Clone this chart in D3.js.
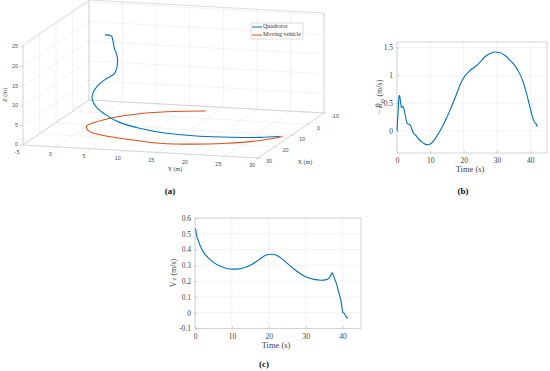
<!DOCTYPE html>
<html lang="en">
<head>
  <meta charset="utf-8">
  <title>Quadrotor landing</title>
  <script src="https://d3js.org/d3.v7.min.js"></script>
  <style>
    body { margin: 0; background: #fff; }
  </style>
</head>
<body>
<div id="fig"></div>
<script>
  // ---- data ----
  // (a) 3D trajectories, metres
  var quadX = [0.2, 0.1, 0.3, 1.0, 1.6, 2.0, 3.4, 4.3, 5.6, 7.5, 9.7, 11.5, 13.5, 16.0, 18.3, 19.6, 20.3, 19.3, 17.0, 14.6, 12.0];
  var quadY = [-0.1, 0.8, 1.1, 1.5, 1.9, 2.2, 2.4, 2.3, 1.4, 0.6, 0.4, 0.8, 1.9, 4.0, 6.5, 9.8, 14.0, 18.7, 23.1, 26.5, 28.8];
  var quadZ = [20, 19.8, 18.6, 16.8, 16, 14.6, 12.5, 11.5, 10.5, 9.2, 7.8, 6.6, 5.5, 4.4, 3.5, 2.7, 2.0, 1.4, 0.9, 0.5, 0.2];
  var vehX = [-6.3, -4.3, -1.0, 3.5, 8.3, 11.9, 15.8, 18.4, 20.5, 22.3, 21.6, 19.3, 16.6, 13.3, 11.2];
  var vehY = [13.3, 8.8, 4.7, 1.8, 0.3, 0.0, 1.4, 4.0, 8.1, 13.5, 18.2, 22.7, 25.9, 28.1, 29.0];
  var vehZ = [0, 0, 0, 0, 0, 0, 0, 0, 0, 0, 0, 0, 0, 0, 0];
  var xTicks3 = [-10, 0, 10, 20, 30];
  var yTicks3 = [-5, 0, 5, 10, 15, 20, 25, 30];
  var zTicks3 = [0, 5, 10, 15, 20, 25];
  var legendNames = ["Quadrotor", "Moving vehicle"];

  // (b) -dR_xy/dt vs time
  var bTime = [0, 0.3, 0.6, 0.8, 1.0, 1.3, 1.6, 1.9, 2.2, 2.6, 3.0, 3.4, 3.9, 4.4, 5.0, 5.6, 6.4, 7.4, 8.4, 9.4, 10.4, 11.8, 13.3, 14.8, 16.3, 17.8, 19.0, 20.3, 21.8, 23.3, 24.8, 26.3, 27.8, 29.3, 30.8, 32.3, 33.8, 35.3, 36.8, 38.0, 39.0, 40.0, 40.8, 41.4, 41.8, 42.1];
  var bVal = [0, 0.31, 0.61, 0.64, 0.55, 0.42, 0.44, 0.42, 0.37, 0.24, 0.14, 0.12, 0.11, 0.04, -0.05, -0.08, -0.14, -0.2, -0.24, -0.25, -0.22, -0.11, 0.04, 0.22, 0.43, 0.65, 0.84, 0.98, 1.08, 1.15, 1.23, 1.33, 1.39, 1.42, 1.41, 1.36, 1.28, 1.18, 1.03, 0.85, 0.64, 0.40, 0.22, 0.14, 0.12, 0.07];
  var bXTicks = [0, 10, 20, 30, 40];
  var bYTicks = [0, 0.5, 1, 1.5];

  // (c) Vz vs time
  var cTime = [0.1, 0.2, 0.44, 0.9, 1.5, 2.2, 3.1, 4.2, 5.3, 6.6, 8.4, 10.2, 11.9, 13.7, 15.5, 17.3, 19.0, 20.8, 22.1, 23.5, 25.2, 27.0, 28.8, 30.5, 32.3, 34.1, 35.4, 36.3, 36.9, 37.2, 37.6, 38.3, 38.9, 39.6, 40.1, 40.5, 40.9, 41.4];
  var cVal = [0.535, 0.525, 0.49, 0.457, 0.419, 0.387, 0.36, 0.335, 0.314, 0.297, 0.282, 0.276, 0.278, 0.288, 0.307, 0.335, 0.362, 0.37, 0.364, 0.343, 0.309, 0.274, 0.244, 0.223, 0.211, 0.206, 0.208, 0.219, 0.24, 0.255, 0.23, 0.187, 0.135, 0.072, 0.002, -0.006, -0.023, -0.038];
  var cXTicks = [0, 10, 20, 30, 40];
  var cYTicks = [-0.1, 0, 0.1, 0.2, 0.3, 0.4, 0.5, 0.6];

  var blue = "#0072BD", orange = "#D95319";
  var gridCol = "#ebebeb", boxCol = "#c4c4c4";
  var serif = "'Liberation Serif', 'DejaVu Serif', serif";
  var sans = "'Liberation Sans', Arial, sans-serif";

  var svg = d3.select("#fig").append("svg")
    .attr("width", 550)
    .attr("height", 371)
    .attr("font-family", serif)
    .style("font-family", serif);

  // ================= (a) 3D view =================
  var xs = d3.scaleLinear().domain([-10, 30]).range([0, 1]);
  var ys = d3.scaleLinear().domain([-5, 30]).range([0, 1]);
  var zs = d3.scaleLinear().domain([0, 25.5]).range([0, 1]);
  // back-bottom corner (x=-10, y=-5, z=0) and axis direction vectors
  var p0 = [89, 100], ex = [-66, 45], ey = [235, 13], ez = [0, -100];

  function proj(x, y, z) {
    var a = xs(x), b = ys(y), c = zs(z);
    return [p0[0] + a * ex[0] + b * ey[0] + c * ez[0],
            p0[1] + a * ex[1] + b * ey[1] + c * ez[1]];
  }

  var g3 = svg.append("g");
  var xMin = -10, xMax = 30, yMin = -5, yMax = 30, zMax = 25.5;

  function seg(a, b, col, w) {
    g3.append("line")
      .attr("x1", a[0]).attr("y1", a[1])
      .attr("x2", b[0]).attr("y2", b[1])
      .attr("stroke", col).attr("stroke-width", w || 0.6);
  }

  // grids
  yTicks3.forEach(function(t) {
    seg(proj(xMin, t, 0), proj(xMin, t, zMax), gridCol);   // back wall
    seg(proj(xMin, t, 0), proj(xMax, t, 0), gridCol);      // floor
  });
  xTicks3.forEach(function(t) {
    seg(proj(t, yMin, 0), proj(t, yMin, zMax), gridCol);   // left wall
    seg(proj(t, yMin, 0), proj(t, yMax, 0), gridCol);      // floor
  });
  zTicks3.forEach(function(t) {
    seg(proj(xMin, yMin, t), proj(xMin, yMax, t), gridCol);
    seg(proj(xMin, yMin, t), proj(xMax, yMin, t), gridCol);
  });

  // box edges
  seg(proj(xMin, yMin, 0), proj(xMin, yMax, 0), boxCol);
  seg(proj(xMin, yMin, 0), proj(xMax, yMin, 0), boxCol);
  seg(proj(xMin, yMin, 0), proj(xMin, yMin, zMax), boxCol);
  seg(proj(xMin, yMin, zMax), proj(xMin, yMax, zMax), boxCol);
  seg(proj(xMin, yMin, zMax), proj(xMax, yMin, zMax), boxCol);
  seg(proj(xMin, yMax, 0), proj(xMin, yMax, zMax), boxCol);
  seg(proj(xMax, yMin, 0), proj(xMax, yMin, zMax), boxCol);
  seg(proj(xMax, yMin, 0), proj(xMax, yMax, 0), boxCol);
  seg(proj(xMax, yMax, 0), proj(xMin, yMax, 0), boxCol);

  // ticks + labels
  function tickText(x, y, anchor, t) {
    g3.append("text").attr("x", x).attr("y", y)
      .attr("text-anchor", anchor).attr("dominant-baseline", "middle")
      .style("font-family", sans).attr("font-size", 5.5).attr("fill", "#555").text(t);
  }
  zTicks3.forEach(function(t) {
    var p = proj(xMax, yMin, t);
    seg(p, [p[0] - 3, p[1]], boxCol);
    tickText(p[0] - 5, p[1], "end", t);
  });
  yTicks3.forEach(function(t) {
    var p = proj(xMax, t, 0);
    seg(p, [p[0] - 2, p[1] + 1.5], boxCol);
    tickText(p[0] - 6, p[1] + 8, "middle", t);
  });
  xTicks3.forEach(function(t) {
    var p = proj(t, yMax, 0);
    seg(p, [p[0] + 3, p[1]], boxCol);
    tickText(p[0] + 11, p[1] + 4, "middle", t);
  });

  g3.append("text").attr("transform", "translate(7,95) rotate(-90)")
    .attr("text-anchor", "middle").attr("font-size", 6).attr("fill", "#444").text("Z (m)");
  g3.append("text").attr("x", 175).attr("y", 171)
    .attr("text-anchor", "middle").attr("font-size", 6).attr("fill", "#444").text("Y (m)");
  g3.append("text").attr("x", 305).attr("y", 164)
    .attr("text-anchor", "middle").attr("font-size", 6).attr("fill", "#444").text("X (m)");

  var line3 = d3.line().curve(d3.curveCatmullRom.alpha(0.5));
  var vehPts = vehX.map(function(x, i) { return proj(x, vehY[i], vehZ[i]); });
  var quadPts = quadX.map(function(x, i) { return proj(x, quadY[i], quadZ[i]); });
  g3.append("path").attr("d", line3(vehPts)).attr("fill", "none")
    .attr("stroke", orange).attr("stroke-width", 1.1);
  g3.append("path").attr("d", line3(quadPts)).attr("fill", "none")
    .attr("stroke", blue).attr("stroke-width", 1.1);

  // legend
  var leg = g3.append("g").attr("transform", "translate(251,23)");
  leg.append("rect").attr("width", 52).attr("height", 16)
    .attr("fill", "#fff").attr("stroke", "#bbb").attr("stroke-width", 0.5);
  legendNames.forEach(function(name, i) {
    var yy = 4 + i * 8;
    leg.append("line").attr("x1", 1).attr("x2", 11).attr("y1", yy).attr("y2", yy)
      .attr("stroke", i === 0 ? blue : orange).attr("stroke-width", 1);
    leg.append("text").attr("x", 12).attr("y", yy).attr("dominant-baseline", "middle")
      .attr("font-size", 6).attr("fill", "#333").text(name);
  });

  // ================= 2D panels =================
  function panel(opt) {
    var x = d3.scaleLinear().domain(opt.xDom).range([opt.left, opt.right]);
    var y = d3.scaleLinear().domain(opt.yDom).range([opt.bottom, opt.top]);
    var g = svg.append("g");

    g.selectAll(".gx").data(opt.xTicks).enter().append("line")
      .attr("x1", function(d) { return x(d); }).attr("x2", function(d) { return x(d); })
      .attr("y1", opt.top).attr("y2", opt.bottom)
      .attr("stroke", gridCol).attr("stroke-width", 0.6);
    g.selectAll(".gy").data(opt.yTicks).enter().append("line")
      .attr("y1", function(d) { return y(d); }).attr("y2", function(d) { return y(d); })
      .attr("x1", opt.left).attr("x2", opt.right)
      .attr("stroke", gridCol).attr("stroke-width", 0.6);

    g.append("rect").attr("x", opt.left).attr("y", opt.top)
      .attr("width", opt.right - opt.left).attr("height", opt.bottom - opt.top)
      .attr("fill", "none").attr("stroke", boxCol).attr("stroke-width", 0.7);

    var ax = g.append("g").attr("transform", "translate(0," + opt.bottom + ")")
      .call(d3.axisBottom(x).tickValues(opt.xTicks).tickSize(-2).tickPadding(5));
    var ay = g.append("g").attr("transform", "translate(" + opt.left + ",0)")
      .call(d3.axisLeft(y).tickValues(opt.yTicks).tickSize(-2).tickPadding(4)
        .tickFormat(function(d) { return String(Math.round(d * 10) / 10); }));
    [ax, ay].forEach(function(a) {
      a.attr("font-family", serif);
      a.select(".domain").remove();
      a.selectAll("line").attr("stroke", boxCol);
      a.selectAll("text").attr("font-size", 7.5).attr("fill", "#444");
    });

    g.append("path")
      .datum(opt.t)
      .attr("fill", "none").attr("stroke", blue).attr("stroke-width", 1.1)
      .attr("d", d3.line().curve(d3.curveMonotoneX)
        .x(function(d) { return x(d); })
        .y(function(d, i) { return y(opt.v[i]); }));

    g.append("text").attr("x", (opt.left + opt.right) / 2 - 2).attr("y", opt.bottom + 19)
      .attr("text-anchor", "middle").attr("font-size", 8.5).attr("fill", "#444").text("Time (s)");
    return g;
  }

  var gb = panel({ left: 397, right: 547, top: 42, bottom: 153,
    xDom: [0, 45], yDom: [-0.4, 1.6], xTicks: bXTicks, yTicks: bYTicks, t: bTime, v: bVal });
  var lb = gb.append("text").attr("transform", "translate(382,97) rotate(-90)")
    .attr("text-anchor", "middle").attr("font-size", 8).attr("fill", "#444");
  lb.append("tspan").text("\u2212");
  lb.append("tspan").attr("font-style", "italic").attr("dx", 1.5).text("\u1E58");
  lb.append("tspan").attr("font-style", "italic").attr("font-size", 5.5).attr("dy", 1.5).text("xy");
  lb.append("tspan").attr("dy", -1.5).text(" (m/s)");

  var gc = panel({ left: 195, right: 361, top: 218, bottom: 328.5,
    xDom: [0, 45], yDom: [-0.1, 0.6], xTicks: cXTicks, yTicks: cYTicks, t: cTime, v: cVal });
  var lc = gc.append("text").attr("transform", "translate(176,273) rotate(-90)")
    .attr("text-anchor", "middle").attr("font-size", 8).attr("fill", "#444");
  lc.append("tspan").text("V");
  lc.append("tspan").attr("font-size", 6.5).attr("dx", 1).text("z");
  lc.append("tspan").text(" (m/s)");

  // captions
  [["(a)", 170, 194], ["(b)", 463, 194], ["(c)", 264, 367]].forEach(function(c) {
    svg.append("text").attr("x", c[1]).attr("y", c[2]).attr("text-anchor", "middle")
      .attr("font-size", 9).attr("font-weight", "bold").attr("fill", "#111").text(c[0]);
  });
</script>
</body>
</html>
